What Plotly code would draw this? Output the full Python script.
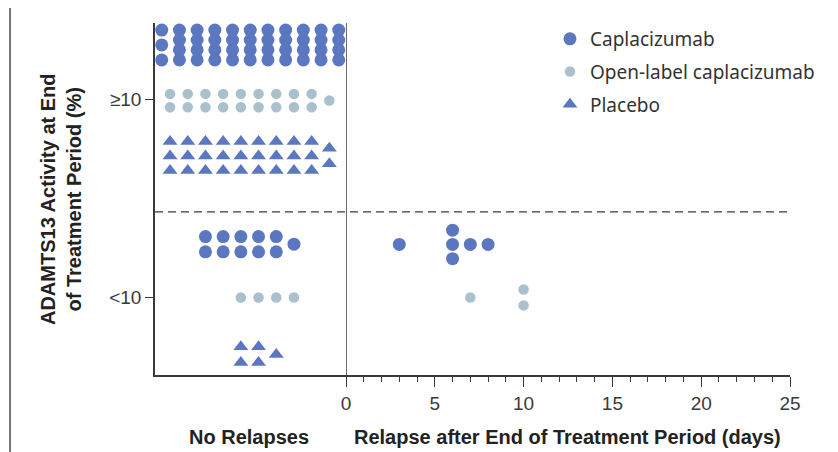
import plotly.graph_objects as go

# ---------------- data ----------------
series_names = ["Caplacizumab", "Open-label caplacizumab", "Placebo"]
activity_levels = ["<10", "≥10"]           # ADAMTS13 activity at end of treatment period (%)
# number of patients without relapse, per series
no_relapse_high = [43, 19, 29]            # ADAMTS13 ≥10
no_relapse_low = [11, 4, 5]               # ADAMTS13 <10
# days to relapse after end of treatment period (all with ADAMTS13 <10)
caplacizumab_relapse_days = [3, 6, 6, 6, 7, 8]
open_label_relapse_days = [7, 10, 10]
placebo_relapse_days = []
day_ticks = [0, 5, 10, 15, 20, 25]

# ---------------- styling / layout ----------------
BLUE = "#5b77c0"
LIGHT = "#aac0cd"
styles = {
    "Caplacizumab": dict(color=BLUE, size=13, symbol="circle"),
    "Open-label caplacizumab": dict(color=LIGHT, size=10.5, symbol="circle"),
    "Placebo": dict(color=BLUE, size=13, symbol="triangle-up"),
}
# beeswarm arrangement for the "No Relapses" panel:
# (rows, first column, remainder first, y centre, row gap, remainder gap)
swarm = {
    ("Caplacizumab", "high"): (4, -0.47, True, 1.276, 0.0503, 0.0754),
    ("Open-label caplacizumab", "high"): (2, 0.0, False, 0.995, 0.0673, 0.07),
    ("Placebo", "high"): (3, 0.0, False, 0.715, 0.0736, 0.079),
    ("Caplacizumab", "low"): (2, 2.0, False, 0.269, 0.0769, 0.077),
    ("Open-label caplacizumab", "low"): (1, 4.0, False, 0.0, 0.07, 0.07),
    ("Placebo", "low"): (2, 4.0, False, -0.289, 0.0784, 0.078),
}
relapse_centre = {"Caplacizumab": (0.268, 0.0719),
                  "Open-label caplacizumab": (0.0, 0.0804),
                  "Placebo": (0.0, 0.08)}


def swarm_points(n, rows, start, rem_first, centre, gap, remgap):
    xs, ys = [], []
    full, rem = divmod(n, rows)
    col = start
    row_y = [centre + (rows - 1) / 2 * gap - r * gap for r in range(rows)]
    rem_y = [centre + (rem - 1) / 2 * remgap - i * remgap for i in range(rem)]
    if rem and rem_first:
        xs += [col] * rem; ys += rem_y; col += 1
    for _ in range(full):
        xs += [col] * rows; ys += row_y; col += 1
    if rem and not rem_first:
        xs += [col] * rem; ys += rem_y
    return xs, ys


def stack_days(days, centre, gap):
    xs, ys = [], []
    for d in sorted(set(days)):
        k = days.count(d)
        for i in range(k):
            xs.append(d)
            ys.append(centre + (k - 1) / 2 * gap - i * gap)
    return xs, ys


fig = go.Figure()
relapses = [caplacizumab_relapse_days, open_label_relapse_days, placebo_relapse_days]
for i, name in enumerate(series_names):
    st = styles[name]
    mk = dict(color=st["color"], size=st["size"], symbol=st["symbol"], line=dict(width=0))
    xs, ys = [], []
    for lvl, counts in (("high", no_relapse_high), ("low", no_relapse_low)):
        x, y = swarm_points(counts[i], *swarm[(name, lvl)])
        xs += x; ys += y
    fig.add_trace(go.Scatter(x=xs, y=ys, mode="markers", marker=mk, name=name,
                             legendgroup=name, showlegend=True, xaxis="x", yaxis="y",
                             cliponaxis=False))
    if relapses[i]:
        c, g = relapse_centre[name]
        x, y = stack_days(relapses[i], c, g)
        fig.add_trace(go.Scatter(x=x, y=y, mode="markers", marker=mk, name=name,
                                 legendgroup=name, showlegend=False, xaxis="x2", yaxis="y"))

AX = "#3a3a3a"
NARROW = "Liberation Sans Narrow, Liberation Sans, sans-serif"
TICKFONT = dict(family=NARROW, size=19, color="#3a3a3a")
split = (346 - 155) / 635

# page body has an 8px margin: figure origin sits at (8, 8) in the window
fig.update_layout(
    width=830, height=444,
    margin=dict(l=147, r=48, t=13, b=77),
    paper_bgcolor="white", plot_bgcolor="white",
    showlegend=True,
    legend=dict(x=0.6220, y=1.0085, xanchor="left", yanchor="top",
                font=dict(family="Noto Sans, sans-serif", size=19, color="#333"),
                tracegroupgap=5, bgcolor="rgba(0,0,0,0)"),
    xaxis=dict(domain=[0, split], range=[-0.85, 9.94], showgrid=False, zeroline=False,
               showticklabels=False, ticks="", showline=True, linecolor=AX, linewidth=1.5,
               anchor="y"),
    xaxis2=dict(domain=[split, 1], range=[0, 25], showgrid=False, zeroline=False,
                tickvals=day_ticks, ticks="outside", ticklen=10, tickwidth=1.2, tickcolor=AX,
                minor=dict(dtick=1, ticks="outside", ticklen=5, tickwidth=1.2, tickcolor=AX),
                showline=True, linecolor=AX, linewidth=1.5, tickfont=TICKFONT, anchor="y"),
    yaxis=dict(domain=[0, 1], range=[-0.392, 1.387], showgrid=False, zeroline=False,
               tickvals=[0, 1], ticktext=activity_levels, ticks="outside", ticklen=8,
               tickwidth=1.2, tickcolor=AX, showline=True, linecolor=AX, linewidth=1.5,
               tickfont=TICKFONT, anchor="x"),
    shapes=[
        dict(type="line", xref="x2", yref="paper", x0=0, x1=0, y0=0, y1=1,
             line=dict(color=AX, width=1.5)),
        dict(type="line", xref="paper", yref="y", x0=0, x1=1, y0=0.432, y1=0.432,
             line=dict(color=AX, width=1.3, dash="8px,5px")),
        dict(type="line", xref="paper", yref="paper", x0=-0.2283, x1=-0.2283, y0=-0.24, y1=1.06,
             line=dict(color="#777", width=2)),
    ],
    annotations=[
        dict(text="<b>ADAMTS13 Activity at End<br>of Treatment Period (%)</b>",
             xref="paper", yref="paper", x=-0.148, y=0.5, textangle=-90, showarrow=False,
             xanchor="center", yanchor="middle",
             font=dict(family="Liberation Sans, sans-serif", size=20, color="#222")),
        dict(text="<b>No Relapses</b>", xref="paper", yref="paper", x=0.148, y=-0.175,
             showarrow=False, xanchor="center", yanchor="middle",
             font=dict(family=NARROW, size=20, color="#222")),
        dict(text="<b>Relapse after End of Treatment Period (days)</b>", xref="paper",
             yref="paper", x=0.650, y=-0.175, showarrow=False, xanchor="center",
             yanchor="middle", font=dict(family=NARROW, size=20, color="#222")),
    ],
)

fig.write_html("out.html")
